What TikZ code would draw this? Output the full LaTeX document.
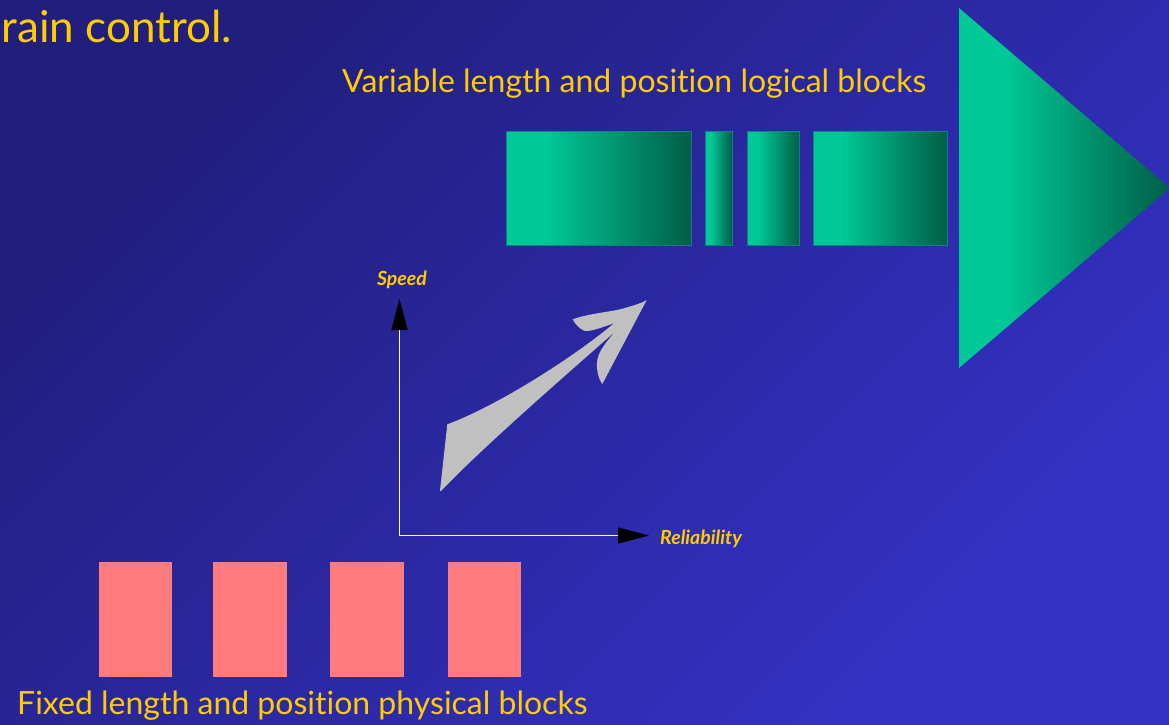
\documentclass[tikz,border=0pt]{standalone}
\usepackage{fontspec}
\setmainfont[Ligatures={NoCommon}]{Lato}
\usetikzlibrary{arrows.meta}
\definecolor{bgdark}{RGB}{33,30,125}
\definecolor{bgmid}{RGB}{42,40,162}
\definecolor{bglight}{RGB}{52,50,198}
\definecolor{gl}{RGB}{0,200,150}
\definecolor{gd}{RGB}{0,94,70}
\definecolor{gedge}{RGB}{10,130,135}
\definecolor{txtyellow}{RGB}{255,204,0}
\definecolor{pinkblk}{RGB}{255,123,125}
\definecolor{swoosh}{RGB}{192,192,192}
\pgfdeclarehorizontalshading{greenh}{100bp}{color(0bp)=(gl); color(25bp)=(gl); color(36bp)=(gl); color(75bp)=(gd); color(100bp)=(gd)}
\tikzset{
  bigtext/.style={text=txtyellow, font=\fontsize{44}{48}\selectfont, inner sep=0pt},
  midtext/.style={text=txtyellow, font=\fontsize{32}{36}\selectfont, inner sep=0pt},
  axislabel/.style={text=txtyellow, font=\bfseries\itshape\fontsize{19.5}{22}\selectfont, inner sep=0pt},
  greenblock/.style={shading=greenh, draw=gedge, line width=0.5pt},
  pinkblock/.style={fill=pinkblk, draw=none},
  axisline/.style={draw=white, line width=1.2pt, -{Triangle[length=31pt,width=16pt,black]}},
}
\begin{document}
\begin{tikzpicture}[x=1pt,y=-1pt]
\useasboundingbox (0,0) rectangle (1169,724);
\shade[top color=bgdark, middle color=bgmid, bottom color=bglight, shading angle=45] (0,0) rectangle (1169,724);

% title fragment
\node[bigtext, anchor=base east] (title) at (232,42) {rain control.};

% top label
\node[midtext, anchor=base west] (toplabel) at (342,92) {Variable length and position logical blocks};

% green logical blocks
\path[greenblock] (506,131) rectangle (691,245);
\path[greenblock] (705,131) rectangle (732,245);
\path[greenblock] (747,131) rectangle (799,245);
\path[greenblock] (813,131) rectangle (947,245);

% big triangle
\path[shading=greenh] (959,8) -- (1170,188) -- (959,368) -- cycle;

% axes
\coordinate (O) at (399.5,535.5);
\coordinate (Ytip) at (399.5,299);
\coordinate (Xtip) at (649,535.5);
\draw[axisline] (O) -- (Ytip);
\draw[axisline] (O) -- (Xtip);
\node[axislabel] (speed) at (402,280) {Speed};
\node[axislabel, anchor=west] (rel) at (660,539) {Reliability};

% gray swoosh arrow
\fill[swoosh] (440,490.7) -- (447.3,424.3)
  .. controls (497,406) and (574,357) .. (614,323.3)
  .. controls (600,328) and (590,332) .. (584,330.7)
  .. controls (578,328) and (574,322) .. (572.7,319.3)
  .. controls (590,313) and (612,312) .. (625,308)
  .. controls (635,305) and (642,303) .. (646.7,300)
  -- (602.3,384)
  .. controls (598,378) and (596,368) .. (597.3,360)
  .. controls (599,350) and (608,340) .. (615,331.7)
  .. controls (560,380) and (480,450) .. (442,490)
  .. controls (441,491.5) and (440,491.5) .. (440,490.7) -- cycle;

% pink physical blocks
\path[pinkblock] (99,562) rectangle (172,677);
\path[pinkblock] (213,562) rectangle (287,677);
\path[pinkblock] (330,562) rectangle (404,677);
\path[pinkblock] (448,562) rectangle (521,677);

% bottom label
\node[midtext, anchor=base west] (botlabel) at (17,714) {Fixed length and position physical blocks};
\end{tikzpicture}
\end{document}
